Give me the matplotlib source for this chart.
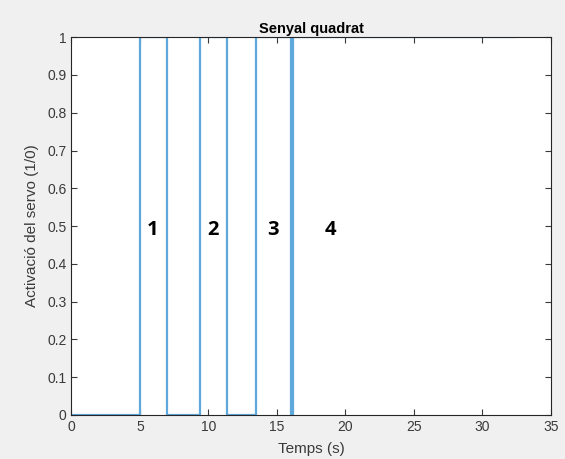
import matplotlib.pyplot as plt
import numpy as np

# temps de canvi (s) i estat del servo
temps = [0, 5.0, 5.0, 6.95, 6.95, 9.38, 9.38, 11.33, 11.33, 13.47, 13.47, 16.0, 16.0, 16.15, 16.15, 32.4]
estat = [0, 0, 1, 1, 0, 0, 1, 1, 0, 0, 1, 1, 0, 0, 1, 1]

etiquetes = ["1", "2", "3", "4"]
pos_etiquetes = [5.95, 10.33, 14.7, 18.94]

plt.rcParams['font.family'] = ['Liberation Sans', 'DejaVu Sans']

fig = plt.figure(figsize=(5.65, 4.59), dpi=100, facecolor="#f0f0f0")
ax = fig.add_axes([0.1265, 0.0959, 0.8485, 0.8231])

ax.plot(temps, estat, color="#5fa8dc", lw=1.6)

for t, x in zip(etiquetes, pos_etiquetes):
    ax.text(x, 0.49, t, fontsize=14.5, fontweight="bold", ha="center", va="center",
            family=["Open Sans", "DejaVu Sans"])

ax.set_xlim(0, 35)
ax.set_ylim(0, 1)
ax.set_xticks(np.arange(0, 36, 5))
ax.set_yticks(np.arange(0, 1.01, 0.1))
ax.set_yticklabels(["0", "0.1", "0.2", "0.3", "0.4", "0.5", "0.6", "0.7", "0.8", "0.9", "1"])
ax.tick_params(direction="in", top=True, right=True, labelsize=10, colors="#3a3a3a", length=4)
for s in ax.spines.values():
    s.set_color("#262626")
    s.set_linewidth(0.8)

ax.set_title("Senyal quadrat", fontsize=10.5, fontweight="bold", pad=3)
ax.set_xlabel("Temps (s)", fontsize=11, color="#3a3a3a", labelpad=6)
ax.set_ylabel("Activació del servo (1/0)", fontsize=11, color="#3a3a3a", labelpad=6)

fig.savefig("out.png", dpi=100, facecolor=fig.get_facecolor())
